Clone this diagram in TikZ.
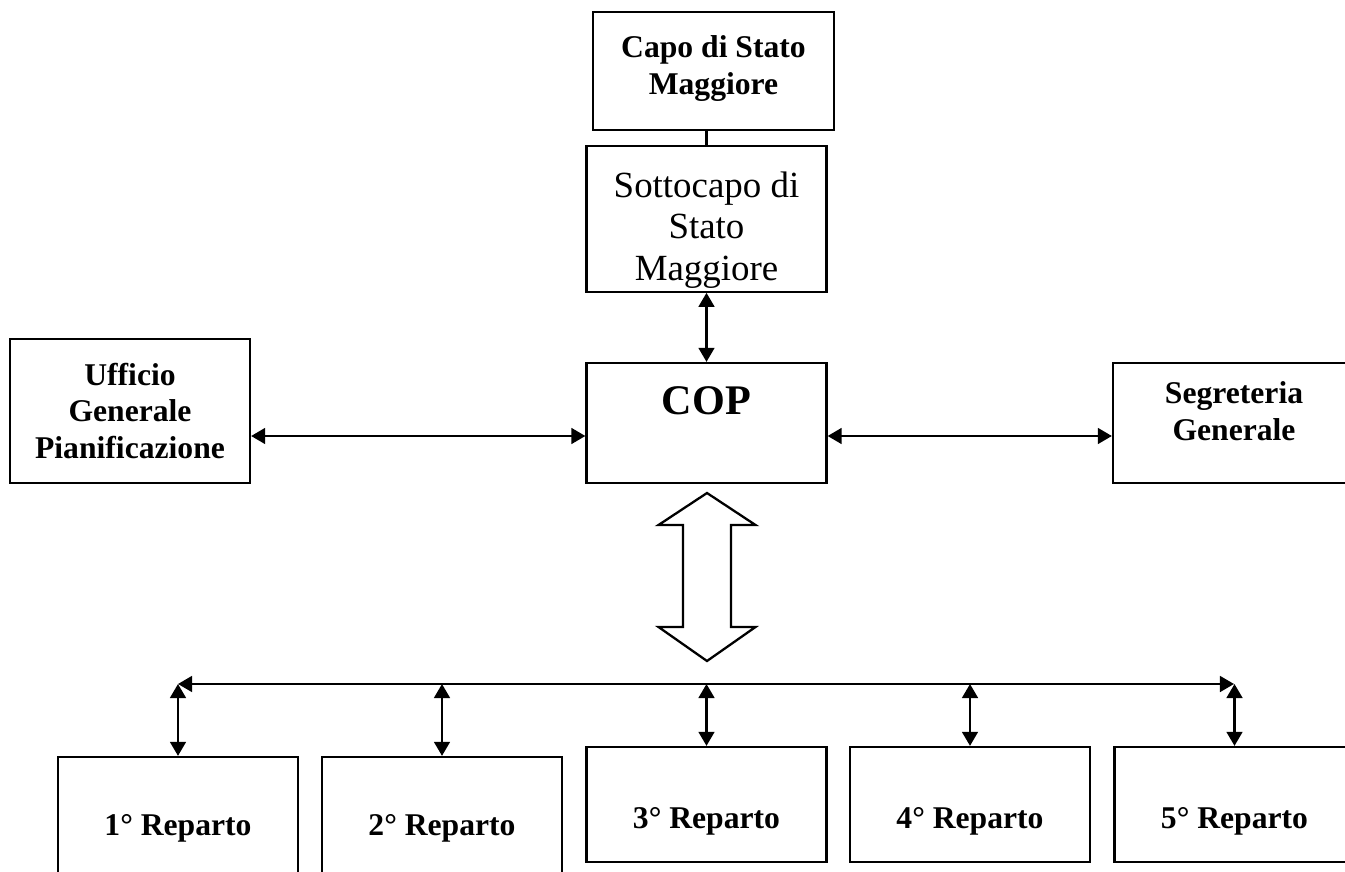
\documentclass[tikz,border=0pt]{standalone}
\usepackage{fontspec}
\setmainfont{Liberation Serif}
\usetikzlibrary{arrows.meta,positioning}

\begin{document}
\begin{tikzpicture}[
    box/.style={rectangle, draw, line width=1.3pt, align=center, inner sep=2pt, minimum width=4.8cm, font=\bfseries\fontsize{18}{21}\selectfont},
    reparto/.style={box, minimum height=2.3cm, text height=31.2pt, text depth=4pt},
    >={Triangle[length=8pt,width=9pt]}
]
    \useasboundingbox (0,0) rectangle (26.9,-17.44);
    \clip (0,0) rectangle (26.9,-17.44);

    % top of the chain
    \node[box, minimum width=4.82cm, minimum height=2.36cm] (capo) at (14.27,-1.42) {Capo di Stato\\Maggiore\rule[-6.4pt]{0pt}{0pt}};
    \node[box, minimum height=2.88cm, font=\fontsize{21}{23.6}\selectfont] (sotto) at (14.13,-4.38) {\rule{0pt}{27pt}Sottocapo di\\Stato\\Maggiore};
    \node[box, minimum height=2.4cm, font=\bfseries\fontsize{24}{28}\selectfont, text height=16.3pt, text depth=26.3pt] (cop) at (14.13,-8.46) {COP};

    % side offices
    \node[box, minimum height=2.88cm] (uff) at (2.6,-8.22) {Ufficio\\Generale\\Pianificazione};
    \node[box, minimum width=4.84cm, minimum height=2.4cm] (segr) at (24.68,-8.46) {Segreteria\\Generale\rule[-13.8pt]{0pt}{0pt}};

    % reparti
    \node[reparto, minimum height=2.46cm, text height=23.2pt] (rep1) at (3.56,-16.37) {1° Reparto};
    \node[reparto, minimum height=2.46cm, text height=23.2pt] (rep2) at (8.84,-16.37) {2° Reparto};
    \node[reparto] (rep3) at (14.13,-16.09) {3° Reparto};
    \node[reparto] (rep4) at (19.4,-16.09) {4° Reparto};
    \node[reparto] (rep5) at (24.69,-16.09) {5° Reparto};

    \coordinate (busL) at (3.56,-13.68);
    \coordinate (busR) at (24.68,-13.68);

    % connectors
    \draw[line width=1.3pt] (sotto.north) -- (sotto.north |- capo.south);
    \draw[line width=1.3pt, <->] (sotto.south) -- (cop.north);
    \draw[line width=1.3pt, <->] ([yshift=-0.26cm]cop.west) -- ([yshift=-0.26cm]cop.west -| uff.east);
    \draw[line width=1.3pt, <->] ([yshift=-0.26cm]cop.east) -- ([yshift=-0.26cm]cop.east -| segr.west);

    % hollow double arrow
    \draw[line width=1.3pt] (14.14,-9.86) -- (15.11,-10.5) -- (14.62,-10.5) -- (14.62,-12.54) -- (15.11,-12.54)
        -- (14.14,-13.22) -- (13.17,-12.54) -- (13.66,-12.54) -- (13.66,-10.5) -- (13.17,-10.5) -- cycle;

    \draw[line width=1.3pt, <->] (busL) -- (busR);
    \foreach \r in {rep1,rep2,rep3,rep4,rep5}
        \draw[line width=1.3pt, <->] (\r.north |- busL) -- (\r.north);
\end{tikzpicture}
\end{document}
